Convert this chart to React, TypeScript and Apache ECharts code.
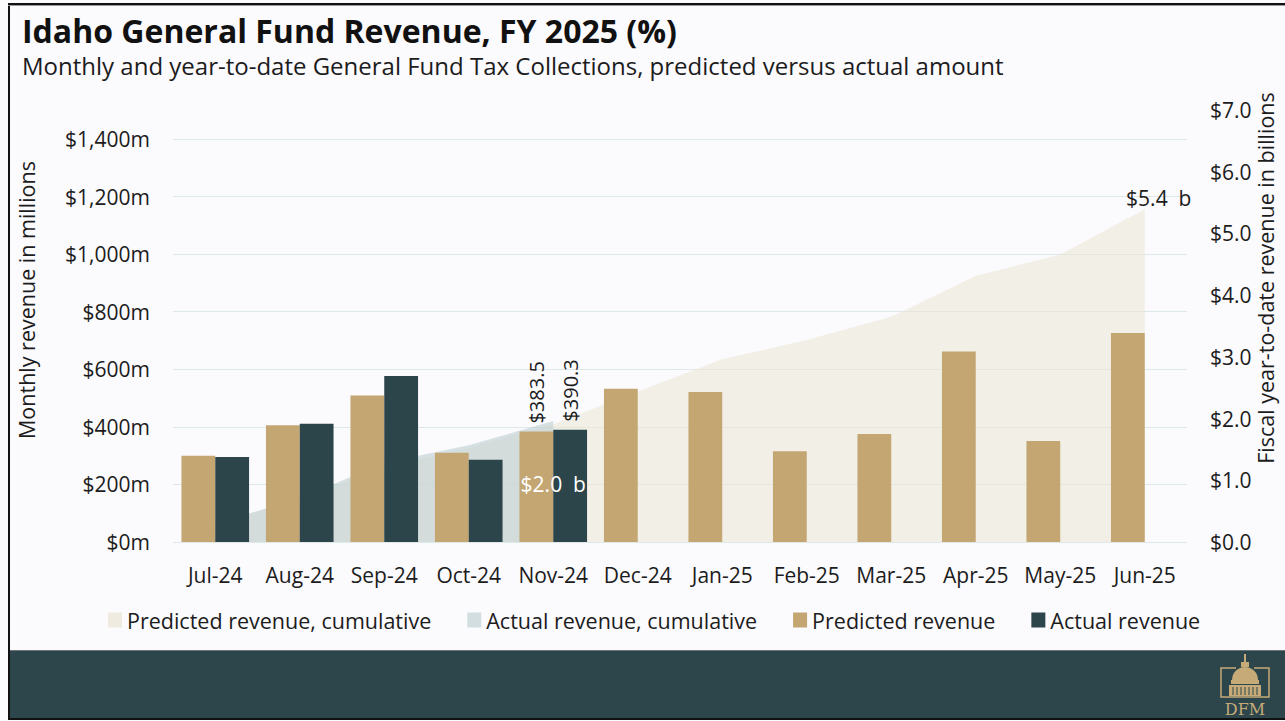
import React, { useEffect, useRef } from "react";
import * as echarts from "echarts";

const months = ["Jul-24", "Aug-24", "Sep-24", "Oct-24", "Nov-24", "Dec-24", "Jan-25", "Feb-25", "Mar-25", "Apr-25", "May-25", "Jun-25"];
const predicted = [300, 406, 509, 310, 383.5, 532, 521, 315, 375, 662, 351, 726];
const actual: (number | null)[] = [295, 411, 577, 286, 390.3, null, null, null, null, null, null, null];
const predictedCum = [0.3, 0.706, 1.215, 1.525, 1.909, 2.44, 2.96, 3.275, 3.65, 4.31, 4.66, 5.39];
const actualCum: (number | null)[] = [0.295, 0.706, 1.283, 1.569, 1.959, null, null, null, null, null, null, null];
const labelledMonth = 4;

const TITLE = "Idaho General Fund Revenue, FY 2025 (%)";
const SUBTITLE = "Monthly and year-to-date General Fund Tax Collections, predicted versus actual amount";
const LEFT_NAME = "Monthly revenue in millions";
const RIGHT_NAME = "Fiscal year-to-date revenue in billions";
const LEGEND = ["Predicted revenue, cumulative", "Actual revenue, cumulative", "Predicted revenue", "Actual revenue"];

const FONT = "'Open Sans', 'Noto Sans', sans-serif";
const TEXT = "#1c1c1c";
const C_PRED = "#C4A673";
const C_ACT = "#2C454A";
const C_PCUM = "#F0EBE0";
const C_ACUM = "#C9D6D6";
const GOLD = "#C6AB78";

export default function App() {
  const ref = useRef<HTMLDivElement>(null);
  useEffect(() => {
    document.body.style.margin = "0";
    const chart = echarts.init(ref.current!, null, { renderer: "svg" });
    const barLabel = {
      show: true,
      position: "top",
      rotate: 90,
      align: "left",
      verticalAlign: "middle",
      distance: 8,
      fontSize: 20,
      fontFamily: FONT,
      color: TEXT,
      formatter: (p: any) => "$" + p.value.toFixed(1),
    };
    const cumLabel = (pos: string, offset: number[], color: string) => ({
      show: true,
      position: pos,
      distance: 5,
      offset,
      color,
      opacity: 1,
      textBorderWidth: 0,
      fontSize: 21,
      fontFamily: FONT,
      formatter: (p: any) => "$" + p.value[1].toFixed(1) + "  b",
    });
    const option: any = {
      animation: false,
      backgroundColor: "#FBFAFD",
      textStyle: { fontFamily: FONT },
      grid: [
        { left: 173, right: 98, top: 139, bottom: 179 },
        { left: 173, right: 98, top: 110, bottom: 179 },
      ],
      xAxis: [
        {
          type: "category",
          gridIndex: 0,
          data: months,
          axisLine: { show: false },
          axisTick: { show: false },
          axisLabel: { fontSize: 21, color: TEXT, margin: 22, fontFamily: FONT, interval: 0 },
        },
        {
          type: "category",
          gridIndex: 1,
          data: months,
          show: false,
        },
      ],
      yAxis: [
        {
          type: "value",
          gridIndex: 0,
          min: 0,
          max: 1400,
          interval: 200,
          axisLine: { show: false },
          axisTick: { show: false },
          axisLabel: {
            fontSize: 21,
            color: TEXT,
            margin: 23,
            fontFamily: FONT,
            formatter: (v: number) => "$" + v.toLocaleString("en-US") + "m",
          },
          splitLine: { lineStyle: { color: "#DFE8E8", width: 1 } },
        },
        {
          type: "value",
          gridIndex: 1,
          position: "right",
          min: 0,
          max: 7,
          interval: 1,
          axisLine: { show: false },
          axisTick: { show: false },
          splitLine: { show: false },
          axisLabel: {
            fontSize: 21,
            color: TEXT,
            margin: 23,
            fontFamily: FONT,
            formatter: (v: number) => "$" + v.toFixed(1),
          },
        },
      ],
      legend: {
        left: 103,
        top: 604,
        icon: "rect",
        itemWidth: 14,
        itemHeight: 15,
        itemGap: 36,
        textStyle: { fontSize: 21.5, color: TEXT, fontFamily: FONT },
        data: [
          { name: LEGEND[0], itemStyle: { color: C_PCUM } },
          { name: LEGEND[1], itemStyle: { color: "#D3DEE0" } },
          { name: LEGEND[2], itemStyle: { color: C_PRED } },
          { name: LEGEND[3], itemStyle: { color: C_ACT } },
        ],
      },
      series: [
        {
          name: LEGEND[0],
          type: "line",
          xAxisIndex: 1,
          yAxisIndex: 1,
          data: predictedCum,
          symbol: "none",
          color: C_PCUM,
          lineStyle: { width: 0 },
          areaStyle: { color: "rgba(235,228,211,0.75)" },
          z: 1,
          silent: true,
        },
        {
          name: LEGEND[1],
          type: "line",
          xAxisIndex: 1,
          yAxisIndex: 1,
          data: actualCum,
          symbol: "none",
          color: C_ACUM,
          lineStyle: { width: 0 },
          areaStyle: { color: "rgba(189,207,209,0.85)" },
          z: 1,
          silent: true,
        },
        {
          name: LEGEND[2],
          type: "bar",
          xAxisIndex: 0,
          yAxisIndex: 0,
          barGap: "0%",
          barCategoryGap: "20%",
          color: C_PRED,
          data: predicted.map((v, i) => (i === labelledMonth ? { value: v, label: barLabel } : v)),
          z: 3,
        },
        {
          name: LEGEND[3],
          type: "bar",
          xAxisIndex: 0,
          yAxisIndex: 0,
          barGap: "0%",
          barCategoryGap: "20%",
          color: C_ACT,
          data: actual.map((v, i) => (i === labelledMonth && v != null ? { value: v, label: barLabel } : v)),
          z: 3,
        },
        {
          name: "cumulative labels",
          type: "scatter",
          xAxisIndex: 1,
          yAxisIndex: 1,
          symbolSize: 0,
          silent: true,
          z: 10,
          itemStyle: { opacity: 1 },
          data: [
            {
              value: [labelledMonth, actualCum[labelledMonth]],
              label: cumLabel("bottom", [0, 47], "#ffffff"),
            },
            {
              value: [months.length - 1, predictedCum[months.length - 1]],
              label: cumLabel("top", [14, 4], TEXT),
            },
          ],
        },
      ],
      graphic: [
        { type: "rect", shape: { x: 10, y: 650, width: 1275, height: 68 }, style: { fill: "#2C464B" }, silent: true },
        { type: "rect", shape: { x: 10, y: 650, width: 1275, height: 1 }, style: { fill: "#6E7476" }, silent: true },
        { type: "rect", shape: { x: 8, y: 3, width: 2, height: 717 }, style: { fill: "#111111" }, silent: true },
        { type: "rect", shape: { x: 8, y: 3, width: 1277, height: 2 }, style: { fill: "#111111" }, silent: true },
        { type: "rect", shape: { x: 8, y: 5, width: 1277, height: 1 }, style: { fill: "#9a9a9a" }, silent: true },
        { type: "rect", shape: { x: 8, y: 718, width: 1277, height: 2 }, style: { fill: "#111111" }, silent: true },
        {
          type: "text",
          left: 22,
          top: 14,
          style: { text: TITLE, fontSize: 32, fontWeight: "bold", fill: "#111111", fontFamily: FONT },
        },
        {
          type: "text",
          left: 22,
          top: 53,
          style: { text: SUBTITLE, fontSize: 24, fill: TEXT, fontFamily: FONT },
        },
        {
          type: "text",
          x: 26,
          y: 300,
          rotation: Math.PI / 2,
          style: { text: LEFT_NAME, fontSize: 21.5, fill: TEXT, fontFamily: FONT, align: "center", verticalAlign: "middle" },
        },
        {
          type: "text",
          x: 1265,
          y: 278,
          rotation: Math.PI / 2,
          style: { text: RIGHT_NAME, fontSize: 21.5, fill: TEXT, fontFamily: FONT, align: "center", verticalAlign: "middle" },
        },
        // DFM logo
        {
          type: "group",
          silent: true,
          children: [
            { type: "polyline", shape: { points: [[1236, 668], [1221, 668], [1221, 697], [1269, 697], [1269, 668], [1254, 668]] }, style: { stroke: GOLD, lineWidth: 1.5, fill: null } },
            { type: "line", shape: { x1: 1245, y1: 654, x2: 1245, y2: 666 }, style: { stroke: GOLD, lineWidth: 2 } },
            { type: "rect", shape: { x: 1241, y: 662, width: 8, height: 5 }, style: { fill: GOLD } },
            { type: "sector", shape: { cx: 1245, cy: 680, r: 13, r0: 0, startAngle: Math.PI, endAngle: Math.PI * 2, clockwise: true }, style: { fill: GOLD } },
            { type: "rect", shape: { x: 1231, y: 680, width: 28, height: 4 }, style: { fill: GOLD } },
            { type: "rect", shape: { x: 1229, y: 685, width: 32, height: 11 }, style: { fill: GOLD } },
            { type: "line", shape: { x1: 1233, y1: 687, x2: 1233, y2: 695 }, style: { stroke: "#2C464B", lineWidth: 1 } },
            { type: "line", shape: { x1: 1237, y1: 687, x2: 1237, y2: 695 }, style: { stroke: "#2C464B", lineWidth: 1 } },
            { type: "line", shape: { x1: 1241, y1: 687, x2: 1241, y2: 695 }, style: { stroke: "#2C464B", lineWidth: 1 } },
            { type: "line", shape: { x1: 1245, y1: 687, x2: 1245, y2: 695 }, style: { stroke: "#2C464B", lineWidth: 1 } },
            { type: "line", shape: { x1: 1249, y1: 687, x2: 1249, y2: 695 }, style: { stroke: "#2C464B", lineWidth: 1 } },
            { type: "line", shape: { x1: 1253, y1: 687, x2: 1253, y2: 695 }, style: { stroke: "#2C464B", lineWidth: 1 } },
            { type: "line", shape: { x1: 1257, y1: 687, x2: 1257, y2: 695 }, style: { stroke: "#2C464B", lineWidth: 1 } },
            { type: "text", x: 1245, y: 709, style: { text: "DFM", fontSize: 16, fill: GOLD, fontFamily: "'DejaVu Serif', 'Liberation Serif', serif", align: "center", verticalAlign: "middle" } },
          ],
        },
      ],
    };
    chart.setOption(option);
    return () => chart.dispose();
  }, []);
  return <div ref={ref} style={{ width: 1285, height: 721, position: "absolute", left: 0, top: 0 }} />;
}
